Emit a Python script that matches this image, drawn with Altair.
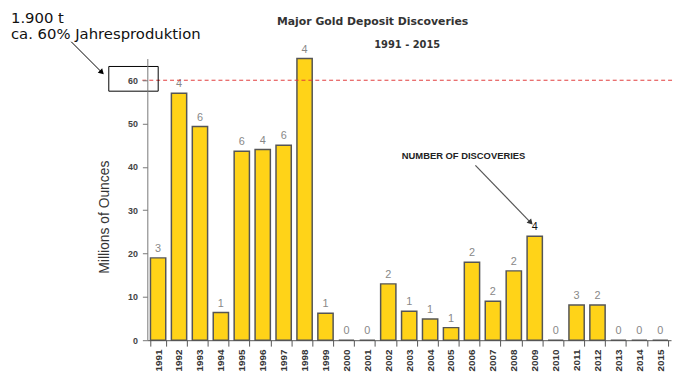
import altair as alt
import pandas as pd

years = [str(y) for y in range(1991, 2016)]
ounces = [19, 57, 49.3, 6.4, 43.6, 44, 45, 65, 6.2, 0, 0, 13, 6.7, 4.9, 2.9,
          18, 9, 16, 24, 0, 8.1, 8.1, 0, 0, 0]
counts = [3, 4, 6, 1, 6, 4, 6, 4, 1, 0, 0, 2, 1, 1, 1, 2, 2, 2, 4, 0, 3, 2, 0, 0, 0]

df = pd.DataFrame({"Year": years, "Ounces": ounces, "Count": counts})
one = pd.DataFrame({"a": [0]})

x = alt.X("Year:N", sort=None, title=None,
          scale=alt.Scale(paddingInner=0.27, paddingOuter=0.15),
          axis=alt.Axis(labelAngle=-90, labelFont="Liberation Sans", labelFontWeight="bold",
                        labelFontSize=10, labelColor="#333", tickBand="extent",
                        domainColor="#555", tickColor="#555", tickSize=6, labelPadding=3,
                        labelBaseline="middle", labelAlign="right"))
y = alt.Y("Ounces:Q", title="Millions of Ounces",
          scale=alt.Scale(domain=[0, 65], nice=False),
          axis=alt.Axis(values=[0, 10, 20, 30, 40, 50, 60], grid=False,
                        labelFont="Liberation Sans", labelFontWeight="bold", labelFontSize=9,
                        labelColor="#444", domainColor="#777", tickColor="#777", tickSize=5,
                        labelPadding=5, titleFont="Liberation Sans", titleFontSize=14,
                        titleFontWeight="normal", titleColor="#333", titleX=-36, titleY=160,
                        zindex=1))

bars = alt.Chart(df).mark_bar(color="#FFD318", stroke="#555", strokeWidth=1.5).encode(x=x, y=y)

labels = alt.Chart(df).mark_text(dy=-9, font="Liberation Sans", fontSize=11).encode(
    x=alt.X("Year:N", sort=None),
    y="Ounces:Q",
    text="Count:Q",
    color=alt.condition(alt.datum.Year == "2009", alt.value("#111"), alt.value("#888")),
)

rule60 = alt.Chart(one).mark_rule(color="#E23A3A", strokeDash=[4, 3], strokeWidth=1).encode(
    y=alt.datum(60), x=alt.value(-5), x2=alt.value(534))

box = alt.Chart(one).mark_rect(fill="transparent", stroke="black", strokeWidth=1).encode(
    x=alt.value(-39), x2=alt.value(11), y=alt.value(8), y2=alt.value(33))

arrow1 = alt.Chart(one).mark_rule(color="black", strokeWidth=1).encode(
    x=alt.value(-77), y=alt.value(-17), x2=alt.value(-47), y2=alt.value(13))
head1 = alt.Chart(one).mark_point(shape="triangle-up", filled=True, color="black",
                                  size=40, angle=135, opacity=1).encode(
    x=alt.value(-46), y=alt.value(14))

arrow2 = alt.Chart(one).mark_rule(color="#555", strokeWidth=1.2).encode(
    x=alt.value(332), y=alt.value(108), x2=alt.value(387), y2=alt.value(165))
head2 = alt.Chart(one).mark_point(shape="triangle-up", filled=True, color="#333",
                                  size=40, angle=136, opacity=1).encode(
    x=alt.value(388), y=alt.value(166))

t1 = alt.Chart(one).mark_text(align="left", baseline="middle", font="DejaVu Sans",
                              fontSize=15, color="#111", text="1.900 t").encode(
    x=alt.value(-138), y=alt.value(-41))
t2 = alt.Chart(one).mark_text(align="left", baseline="middle", font="DejaVu Sans",
                              fontSize=15, color="#111", text="ca. 60% Jahresproduktion").encode(
    x=alt.value(-138), y=alt.value(-25))
title = alt.Chart(one).mark_text(align="center", baseline="middle", font="DejaVu Sans",
                                 fontSize=11, fontWeight="bold", color="#333",
                                 text="Major Gold Deposit Discoveries").encode(
    x=alt.value(228), y=alt.value(-37))
sub = alt.Chart(one).mark_text(align="center", baseline="middle", font="DejaVu Sans",
                               fontSize=10, fontWeight="bold", color="#333",
                               text="1991 - 2015").encode(
    x=alt.value(263), y=alt.value(-14))
nod = alt.Chart(one).mark_text(align="center", baseline="middle", font="Liberation Sans",
                               fontSize=9.5, fontWeight="bold", color="#222",
                               text="NUMBER OF DISCOVERIES").encode(
    x=alt.value(320), y=alt.value(99))

chart = alt.layer(bars, labels, rule60, box, arrow1, head1, arrow2, head2,
                  t1, t2, title, sub, nod).properties(
    width=530, height=285,
    autosize=alt.AutoSizeParams(type="none"),
    padding={"left": 141, "top": 49, "right": 4, "bottom": 30},
).configure_view(stroke=None)

chart.save("out.html", embed_options={"renderer": "svg", "actions": False})
